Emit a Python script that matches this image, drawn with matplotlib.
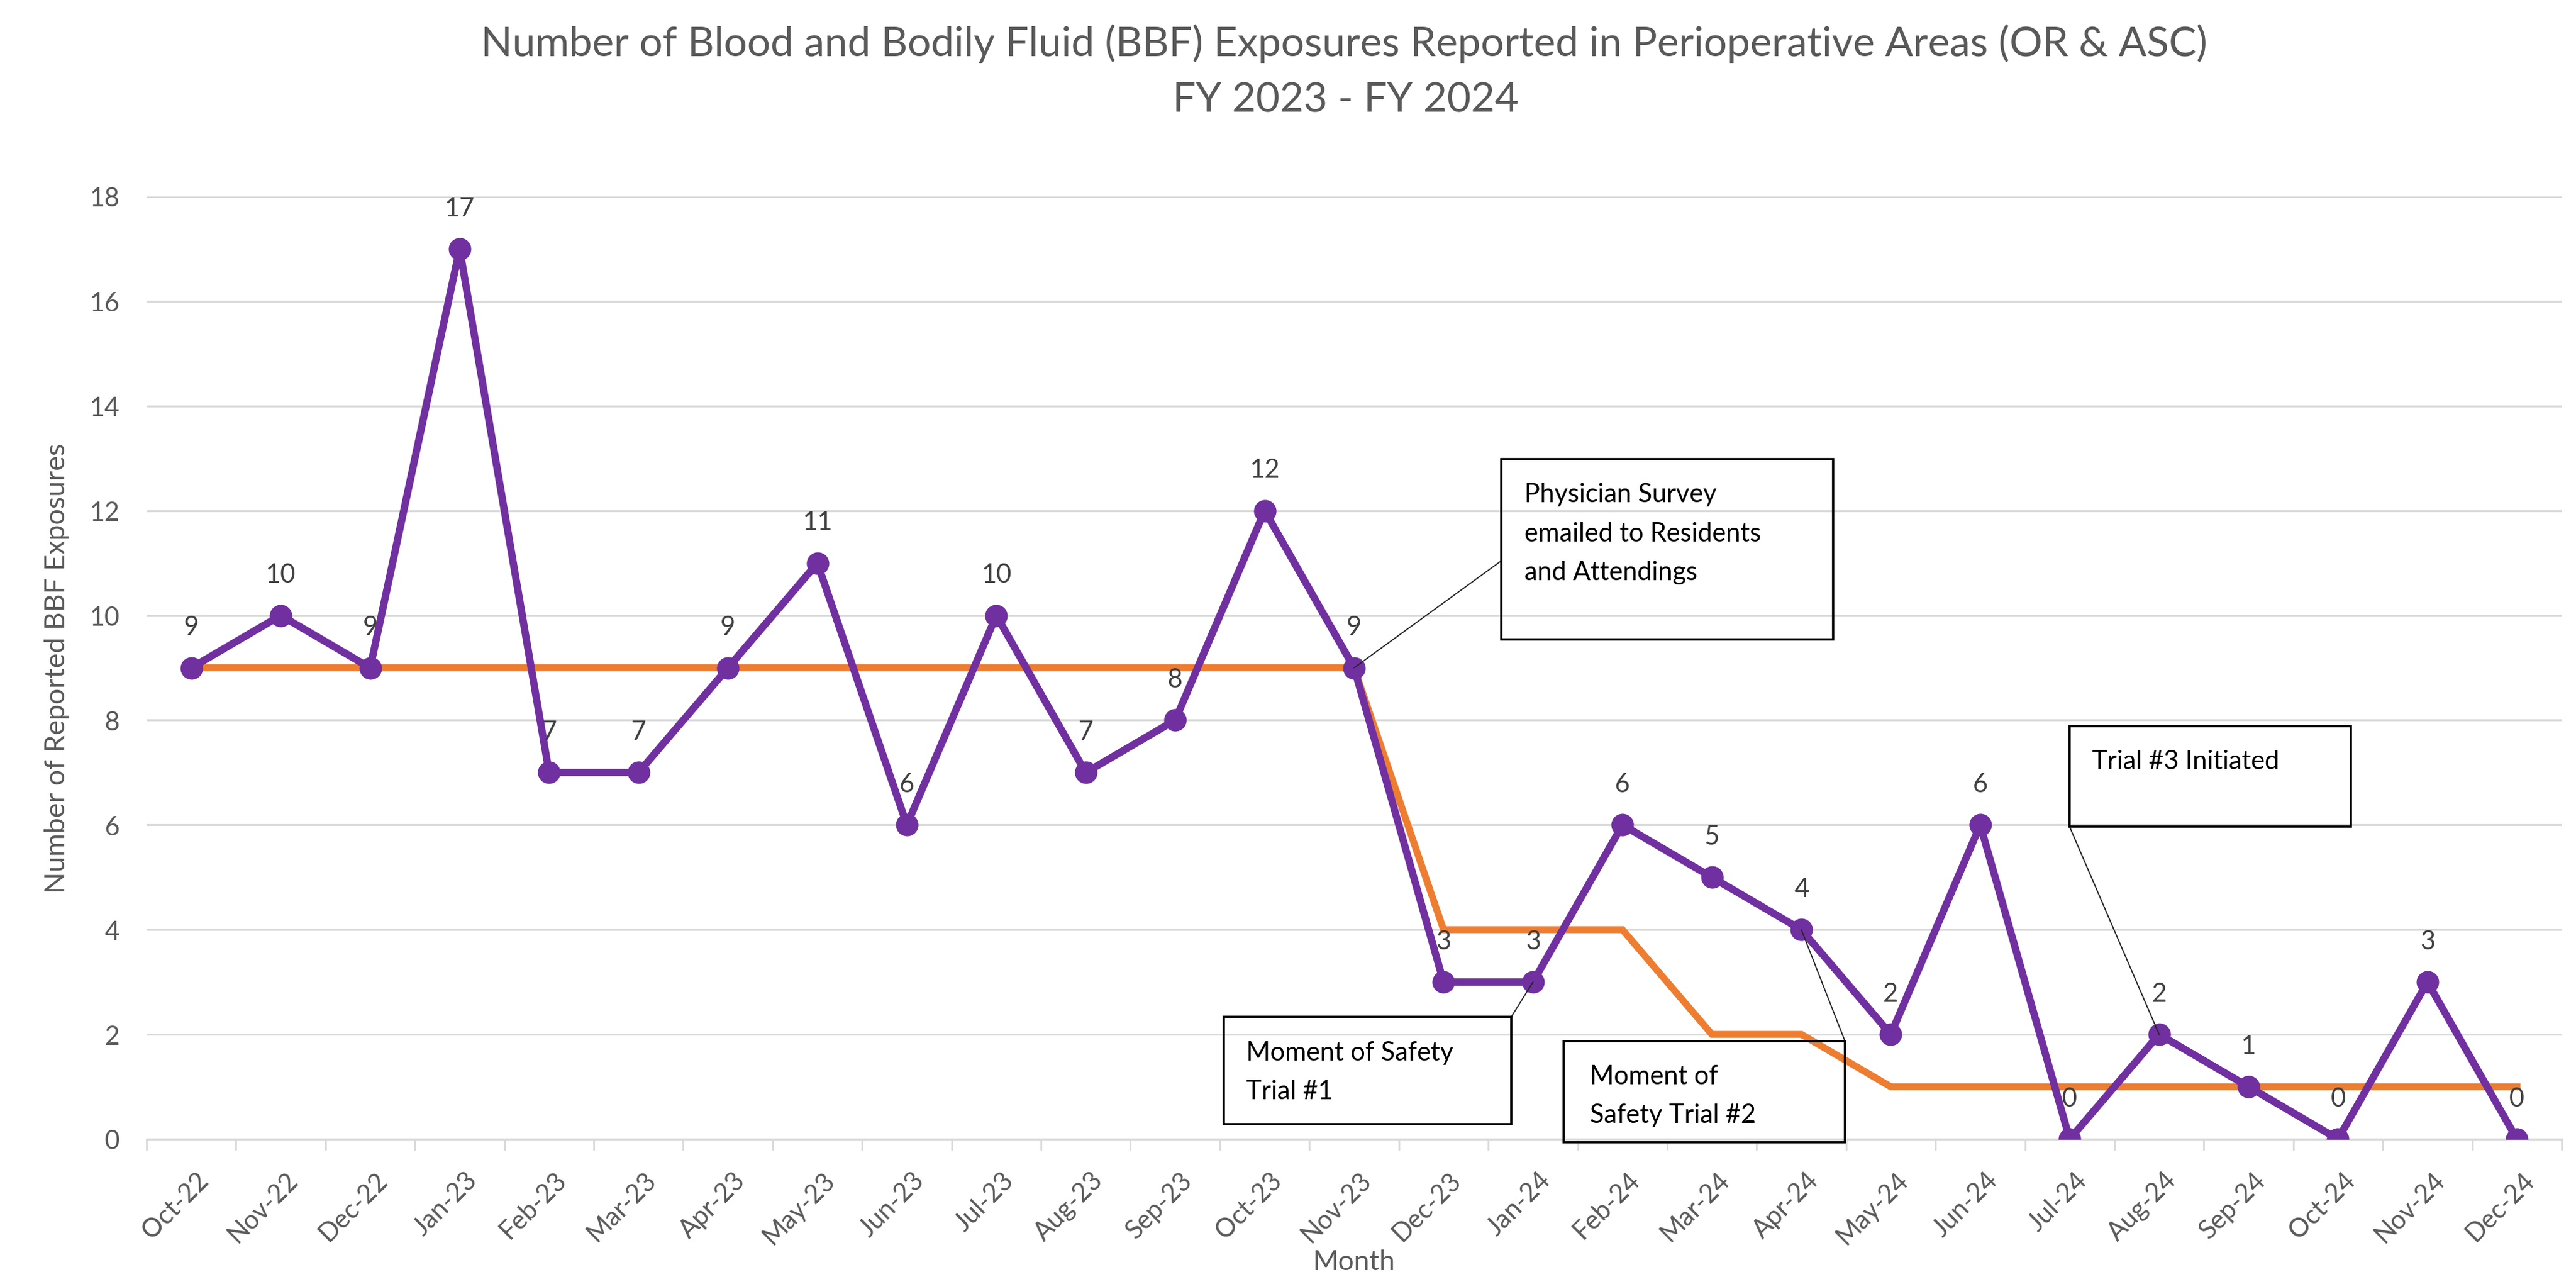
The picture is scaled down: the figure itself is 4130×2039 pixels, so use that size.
import matplotlib
matplotlib.use("Agg")
import matplotlib.pyplot as plt
from matplotlib.patches import Rectangle, ConnectionPatch
from matplotlib.transforms import ScaledTranslation
from matplotlib.ticker import FixedLocator

plt.rcParams['font.family'] = ['Lato', 'DejaVu Sans']

# ---------------- data ----------------
months = ["Oct-22", "Nov-22", "Dec-22", "Jan-23", "Feb-23", "Mar-23", "Apr-23",
          "May-23", "Jun-23", "Jul-23", "Aug-23", "Sep-23", "Oct-23", "Nov-23",
          "Dec-23", "Jan-24", "Feb-24", "Mar-24", "Apr-24", "May-24", "Jun-24",
          "Jul-24", "Aug-24", "Sep-24", "Oct-24", "Nov-24", "Dec-24"]
exposures = [9, 10, 9, 17, 7, 7, 9, 11, 6, 10, 7, 8, 12, 9,
             3, 3, 6, 5, 4, 2, 6, 0, 2, 1, 0, 3, 0]
median_line = [9, 9, 9, 9, 9, 9, 9, 9, 9, 9, 9, 9, 9, 9,
               4, 4, 4, 2, 2, 1, 1, 1, 1, 1, 1, 1, 1]
y_ticks = [0, 2, 4, 6, 8, 10, 12, 14, 16, 18]

title_line1 = "Number of Blood and Bodily Fluid (BBF) Exposures Reported in Perioperative Areas (OR & ASC)"
title_line2 = "FY 2023 - FY 2024"
y_label = "Number of Reported BBF Exposures"
x_label = "Month"

# annotations: (text lines, target month index)
annotations = [
    (["Physician Survey", "emailed to Residents", "and Attendings"], 13),
    (["Moment of Safety", "Trial #1"], 15),
    (["Moment of", "Safety Trial #2"], 18),
    (["Trial #3 Initiated"], 22),
]

# ---------------- styling ----------------
W, H = 4130, 2040
PURPLE = "#7030A0"
ORANGE = "#ED7D31"
GRID = "#D9D9D9"
TXT = "#595959"
LBL = "#404040"

def fx(x):
    return x / W

def fy(y):
    return 1 - y / H

fig = plt.figure(figsize=(W / 100, H / 100), dpi=100)
left, right, top, bottom = 235, 4107, 316, 1827
ax = fig.add_axes([fx(left), fy(bottom), (right - left) / W, (bottom - top) / H])

x = list(range(len(months)))
ax.plot(x, median_line, color=ORANGE, lw=8, solid_joinstyle='miter', zorder=3)
ax.plot(x, exposures, color=PURPLE, lw=8.5, marker='o', markersize=26,
        markeredgewidth=0, zorder=4)

for i, v in enumerate(exposures):
    ax.annotate(str(v), (i, v), xytext=(0, 47), textcoords='offset points',
                ha='center', va='center', fontsize=30, color=LBL, zorder=5)

ax.set_xlim(-0.5, len(months) - 0.5)
ax.set_ylim(0, 18)
ax.set_yticks(y_ticks)
ax.set_yticklabels([str(t) for t in y_ticks])
ax.yaxis.grid(True, color=GRID, lw=2.3)
ax.set_axisbelow(True)
for s in ['left', 'right', 'top']:
    ax.spines[s].set_visible(False)
ax.spines['bottom'].set_color(GRID)
ax.spines['bottom'].set_linewidth(2.3)

ax.tick_params(axis='y', length=0, pad=31, labelsize=30, labelcolor=TXT)
ax.set_xticks(x)
ax.set_xticklabels(months, rotation=45, ha='right', va='top',
                   rotation_mode='anchor')
ax.tick_params(axis='x', which='major', length=0, pad=33, labelsize=30,
               labelcolor=TXT)
ax.xaxis.set_minor_locator(FixedLocator([i - 0.5 for i in range(len(months) + 1)]))
ax.tick_params(axis='x', which='minor', length=13, width=2, color=GRID)
for lab in ax.get_xticklabels():
    lab.set_transform(lab.get_transform() + ScaledTranslation(0.08, 0, fig.dpi_scale_trans))

# titles / labels
fig.text(fx(2155), fy(90), title_line1, ha='center', va='baseline',
         fontsize=47.5, color=TXT)
fig.text(fx(2157), fy(180), title_line2, ha='center', va='baseline',
         fontsize=47.5, color=TXT)
fig.text(fx(92), fy(1071), y_label, rotation=90, ha='center', va='center',
         fontsize=32.5, color=TXT)
fig.text(fx(2171), fy(2036), x_label, ha='center', va='baseline',
         fontsize=32, color=TXT)

# annotation boxes: box (x0, y0, x1, y1) in px, text x, baselines, connector start
box_layout = [
    ((2407, 737, 2939, 1026), 2444, [805, 868, 930], (2407, 900)),
    ((1962, 1631, 2423, 1803), 1998, [1700, 1762], (2423, 1631)),
    ((2507, 1670, 2958, 1832), 2549, [1738, 1800], (2958, 1670)),
    ((3318, 1165, 3769, 1326), 3354, [1233], (3318, 1326)),
]
for (lines, idx), (bx, tx, baselines, cstart) in zip(annotations, box_layout):
    x0, y0, x1, y1 = bx
    rect = Rectangle((fx(x0), fy(y1)), (x1 - x0) / W, (y1 - y0) / H,
                     transform=fig.transFigure, facecolor='none',
                     edgecolor='black', lw=2.6, zorder=6)
    fig.patches.append(rect)
    for line, b in zip(lines, baselines):
        fig.text(fx(tx), fy(b), line, ha='left', va='baseline', fontsize=30,
                 color='black', zorder=7)
    con = ConnectionPatch(xyA=(fx(cstart[0]), fy(cstart[1])), coordsA=fig.transFigure,
                          xyB=(idx, exposures[idx]), coordsB=ax.transData,
                          color='#262626', lw=1.4, zorder=6)
    fig.add_artist(con)

fig.savefig("out.png", dpi=100)
